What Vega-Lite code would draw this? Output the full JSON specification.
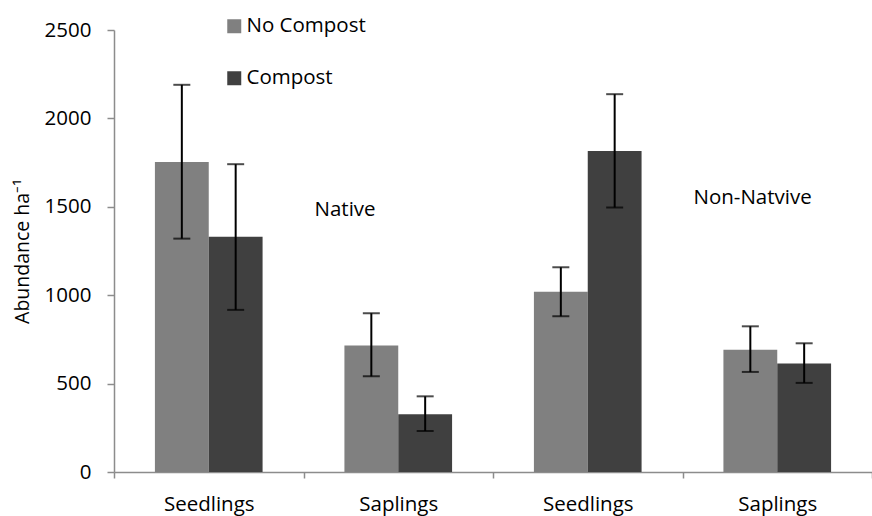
{
  "$schema": "https://vega.github.io/schema/vega-lite/v6.json",
  "width": 758,
  "height": 442,
  "autosize": {"type": "none"},
  "padding": {"left": 114, "top": 30, "right": 0, "bottom": 44},
  "config": {"view": {"stroke": null}, "font": "Open Sans"},
  "datasets": {
    "bars": [
      {"group": "Native Seedlings", "treatment": "No Compost", "mean": 1754, "lo": 1320, "hi": 2190},
      {"group": "Native Seedlings", "treatment": "Compost", "mean": 1330, "lo": 917, "hi": 1741},
      {"group": "Native Saplings", "treatment": "No Compost", "mean": 715, "lo": 541, "hi": 898},
      {"group": "Native Saplings", "treatment": "Compost", "mean": 326, "lo": 232, "hi": 428},
      {"group": "Non-native Seedlings", "treatment": "No Compost", "mean": 1019, "lo": 881, "hi": 1158},
      {"group": "Non-native Seedlings", "treatment": "Compost", "mean": 1815, "lo": 1496, "hi": 2137},
      {"group": "Non-native Saplings", "treatment": "No Compost", "mean": 692, "lo": 566, "hi": 824},
      {"group": "Non-native Saplings", "treatment": "Compost", "mean": 613, "lo": 504, "hi": 728}
    ],
    "notes": [
      {"group": "Native Saplings", "note": "Native", "y": 1483},
      {"group": "Non-native Saplings", "note": "Non-Natvive", "y": 1551}
    ]
  },
  "layer": [
    {
      "data": {"name": "bars"},
      "encoding": {
        "x": {
          "field": "group", "type": "nominal",
          "sort": ["Native Seedlings", "Native Saplings", "Non-native Seedlings", "Non-native Saplings"],
          "scale": {"paddingInner": 0, "paddingOuter": 0},
          "axis": {
            "title": null, "labelAngle": 0, "tickBand": "extent", "tickSize": 6,
            "labelPadding": 16, "labelFontSize": 20.5, "labelColor": "black",
            "domainColor": "#8c8c8c", "tickColor": "#8c8c8c", "domainWidth": 1.5, "tickWidth": 1.5,
            "labelExpr": "split(datum.label, ' ')[1]"
          }
        },
        "xOffset": {
          "field": "treatment", "type": "nominal", "sort": ["No Compost", "Compost"],
          "scale": {"paddingInner": 0, "paddingOuter": 0.76}
        }
      },
      "layer": [
        {
          "mark": {"type": "bar"},
          "encoding": {
            "y": {
              "field": "mean", "type": "quantitative",
              "scale": {"domain": [0, 2500], "nice": false},
              "axis": {
                "title": "Abundance ha⁻¹", "titleFontSize": 19.5, "titleFontWeight": "normal", "titleColor": "black",
                "titlePadding": 12, "values": [0, 500, 1000, 1500, 2000, 2500], "format": "d", "grid": false,
                "tickSize": 7, "labelPadding": 16, "labelFontSize": 20.5, "labelColor": "black",
                "domainColor": "#8c8c8c", "tickColor": "#8c8c8c", "domainWidth": 1.5, "tickWidth": 1.5
              }
            },
            "color": {
              "field": "treatment", "type": "nominal", "sort": ["No Compost", "Compost"],
              "scale": {"domain": ["No Compost", "Compost"], "range": ["#808080", "#404040"]},
              "legend": {
                "title": null, "orient": "none", "legendX": 110, "legendY": -14,
                "symbolType": "square", "symbolSize": 196, "symbolStrokeWidth": 0, "symbolOpacity": 1,
                "labelFontSize": 20.5, "labelColor": "black", "rowPadding": 31, "labelOffset": 2
              }
            }
          }
        },
        {
          "mark": {"type": "rule", "color": "black", "strokeWidth": 2},
          "encoding": {"y": {"field": "lo", "type": "quantitative"}, "y2": {"field": "hi"}}
        },
        {
          "mark": {"type": "tick", "color": "black", "thickness": 2, "size": 17, "orient": "horizontal"},
          "encoding": {"y": {"field": "hi", "type": "quantitative"}}
        },
        {
          "mark": {"type": "tick", "color": "black", "thickness": 2, "size": 17, "orient": "horizontal"},
          "encoding": {"y": {"field": "lo", "type": "quantitative"}}
        }
      ]
    },
    {
      "data": {"name": "notes"},
      "mark": {"type": "text", "align": "left", "baseline": "middle", "dx": 11, "fontSize": 20.5, "color": "black"},
      "encoding": {
        "x": {
          "field": "group", "type": "nominal", "bandPosition": 0,
          "sort": ["Native Seedlings", "Native Saplings", "Non-native Seedlings", "Non-native Saplings"]
        },
        "y": {"field": "y", "type": "quantitative"},
        "text": {"field": "note"}
      }
    }
  ]
}
